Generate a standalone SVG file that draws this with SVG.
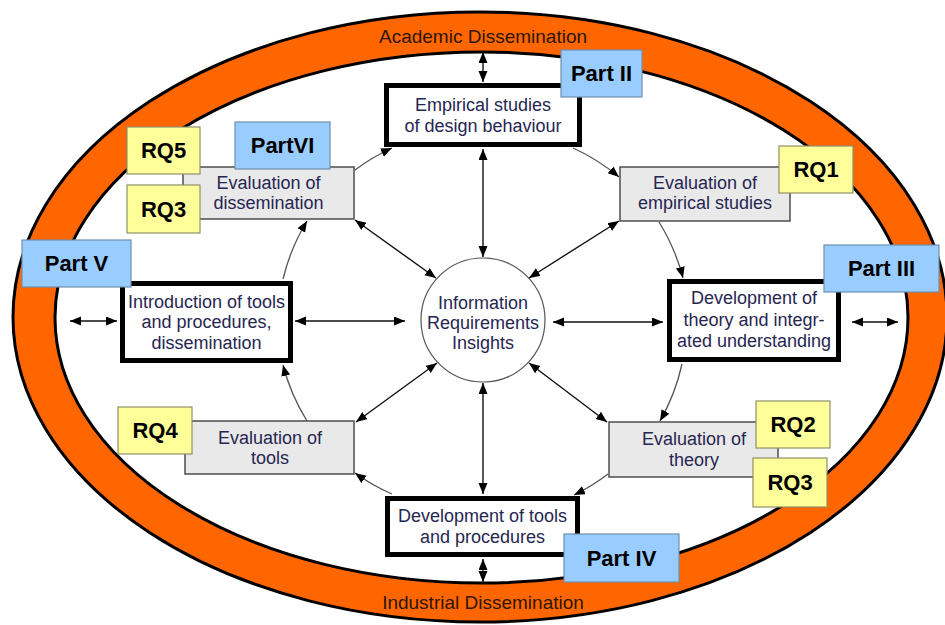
<svg xmlns="http://www.w3.org/2000/svg" width="945" height="625" viewBox="0 0 945 625">
  <defs>
    <marker id="ah" markerUnits="userSpaceOnUse" markerWidth="12" markerHeight="10" refX="11" refY="4.5" orient="auto-start-reverse">
      <path d="M0,0 L11,4.5 L0,9 z" fill="#000"/>
    </marker>
    <style>
      .ring-txt { font-family: "Liberation Sans", Arial, sans-serif; font-size: 19px; fill: #2e1600; text-anchor: middle; }
      .txt { font-family: "Liberation Sans", Arial, sans-serif; font-size: 18px; fill: #262652; text-anchor: middle; }
      .lbl { font-family: "Liberation Sans", Arial, sans-serif; font-size: 22px; font-weight: bold; fill: #000; text-anchor: middle; }
      .main { fill: #fff; stroke: #000; stroke-width: 5; }
      .eval { fill: #e9e9e9; stroke: #4d4d4d; stroke-width: 1.5; }
      .part { fill: #99ccff; stroke: #6f8fb0; stroke-width: 1.2; }
      .rq { fill: #ffff99; stroke: #8f8f6a; stroke-width: 1.2; }
      .dbl { fill: none; stroke: #111; stroke-width: 1.4; marker-start: url(#ah); marker-end: url(#ah); }
      .cyc { fill: none; stroke: #555; stroke-width: 1.3; marker-end: url(#ah); }
    </style>
  </defs>

  <!-- dissemination ring -->
  <g id="ring">
    <ellipse cx="480" cy="317" rx="467" ry="305" fill="#ff6600" stroke="#000" stroke-width="3"/>
    <ellipse cx="481.5" cy="317.5" rx="426.5" ry="265.5" fill="#fff" stroke="#000" stroke-width="3"/>
    <text class="ring-txt" x="483" y="43">Academic Dissemination</text>
    <text class="ring-txt" x="483" y="609">Industrial Dissemination</text>
  </g>

  <!-- connectors -->
  <g id="connectors">
    <!-- vertical axis -->
    <line class="dbl" x1="483" y1="52" x2="483" y2="82"/>
    <line class="dbl" x1="483" y1="149" x2="483" y2="257"/>
    <line class="dbl" x1="483" y1="383" x2="483" y2="494"/>
    <line class="dbl" x1="483" y1="559" x2="483" y2="582"/>
    <!-- horizontal axis -->
    <line class="dbl" x1="70" y1="321" x2="117" y2="321"/>
    <line class="dbl" x1="295" y1="321" x2="405" y2="321"/>
    <line class="dbl" x1="553" y1="322" x2="663" y2="322"/>
    <line class="dbl" x1="852" y1="322" x2="898" y2="322"/>
    <!-- diagonals to the centre -->
    <line class="dbl" x1="355" y1="220" x2="436" y2="278"/>
    <line class="dbl" x1="619" y1="221" x2="529" y2="278"/>
    <line class="dbl" x1="356" y1="422" x2="437" y2="363"/>
    <line class="dbl" x1="607" y1="422" x2="529" y2="363"/>
    <!-- clockwise cycle -->
    <path class="cyc" d="M573,148 A198,198 0 0 1 619,177"/>
    <path class="cyc" d="M659,222 A203,203 0 0 1 683,278"/>
    <path class="cyc" d="M682,364 A203,203 0 0 1 660,421"/>
    <path class="cyc" d="M608,474 A198,198 0 0 1 574,495"/>
    <path class="cyc" d="M392,494 A198,198 0 0 1 355,473"/>
    <path class="cyc" d="M307,421 A203,203 0 0 1 283,365"/>
    <path class="cyc" d="M283,279 A203,203 0 0 1 307,221"/>
    <path class="cyc" d="M355,170 A198,198 0 0 1 392,148"/>
  </g>

  <g id="centre">
    <circle cx="483" cy="320" r="62" fill="#fff" stroke="#555" stroke-width="1.2"/>
    <text class="txt" x="483" y="309">Information</text>
    <text class="txt" x="483" y="329">Requirements</text>
    <text class="txt" x="483" y="349">Insights</text>
  </g>

  <g id="empirical-studies">
    <rect class="main" x="386.5" y="85.5" width="193" height="59"/>
    <text class="txt" x="483" y="111">Empirical studies</text>
    <text class="txt" x="483" y="132">of design behaviour</text>
  </g>

  <g id="eval-empirical">
    <rect class="eval" x="620" y="167" width="170" height="54"/>
    <text class="txt" x="705" y="189">Evaluation of</text>
    <text class="txt" x="705" y="209">empirical studies</text>
  </g>

  <g id="dev-theory">
    <rect class="main" x="669.5" y="281.5" width="169" height="78"/>
    <text class="txt" x="754" y="304">Development of</text>
    <text class="txt" x="754" y="326">theory and integr-</text>
    <text class="txt" x="754" y="347">ated understanding</text>
  </g>

  <g id="eval-theory">
    <rect class="eval" x="609" y="422" width="169" height="55"/>
    <text class="txt" x="694" y="445">Evaluation of</text>
    <text class="txt" x="694" y="466">theory</text>
  </g>

  <g id="dev-tools">
    <rect class="main" x="387.5" y="498.5" width="190" height="56"/>
    <text class="txt" x="482.5" y="522">Development of tools</text>
    <text class="txt" x="482.5" y="543">and procedures</text>
  </g>

  <g id="eval-tools">
    <rect class="eval" x="185" y="421" width="169" height="53"/>
    <text class="txt" x="270" y="444">Evaluation of</text>
    <text class="txt" x="270" y="464">tools</text>
  </g>

  <g id="intro-tools">
    <rect class="main" x="122.5" y="283.5" width="168" height="77"/>
    <text class="txt" x="206.5" y="308">Introduction of tools</text>
    <text class="txt" x="206.5" y="328">and procedures,</text>
    <text class="txt" x="206.5" y="349">dissemination</text>
  </g>

  <g id="eval-dissemination">
    <rect class="eval" x="183" y="167" width="171" height="52"/>
    <text class="txt" x="268.5" y="189">Evaluation of</text>
    <text class="txt" x="268.5" y="209">dissemination</text>
  </g>

  <!-- part and research-question tags -->
  <g id="part-2"><rect class="part" x="561" y="50" width="81" height="47"/><text class="lbl" x="601.5" y="81">Part II</text></g>
  <g id="part-6"><rect class="part" x="235" y="122" width="95" height="47"/><text class="lbl" x="282.5" y="153">PartVI</text></g>
  <g id="part-5"><rect class="part" x="22" y="240" width="109" height="47"/><text class="lbl" x="76.5" y="271">Part V</text></g>
  <g id="part-3"><rect class="part" x="824" y="245" width="115" height="47"/><text class="lbl" x="881.5" y="276">Part III</text></g>
  <g id="part-4"><rect class="part" x="564" y="534" width="115" height="48"/><text class="lbl" x="621.5" y="566">Part IV</text></g>

  <g id="rq5"><rect class="rq" x="127" y="127" width="73" height="47"/><text class="lbl" x="163.5" y="158">RQ5</text></g>
  <g id="rq3-left"><rect class="rq" x="127" y="185" width="73" height="48"/><text class="lbl" x="163.5" y="217">RQ3</text></g>
  <g id="rq1"><rect class="rq" x="779" y="146" width="74" height="47"/><text class="lbl" x="816" y="177">RQ1</text></g>
  <g id="rq4"><rect class="rq" x="118" y="407" width="74" height="47"/><text class="lbl" x="155" y="438">RQ4</text></g>
  <g id="rq2"><rect class="rq" x="756" y="401" width="74" height="47"/><text class="lbl" x="793" y="432">RQ2</text></g>
  <g id="rq3-right"><rect class="rq" x="753" y="458" width="74" height="49"/><text class="lbl" x="790" y="490">RQ3</text></g>
</svg>
